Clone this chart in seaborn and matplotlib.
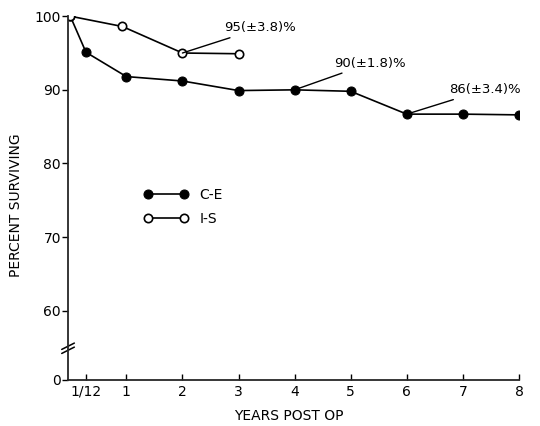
import matplotlib
matplotlib.use("Agg")
import matplotlib.pyplot as plt
import matplotlib.transforms as mtransforms
import seaborn as sns
import pandas as pd
import numpy as np

# x positions as drawn in the figure (1/12 year is stretched out in the original)
tick_pos = [0.28, 1, 2, 3, 4, 5, 6, 7, 8]
tick_labels = ["1/12", "1", "2", "3", "4", "5", "6", "7", "8"]

ce_x = [0, 0.28, 1, 2, 3, 4, 5, 6, 7, 8]
ce_y = [100, 95.1, 91.8, 91.2, 89.9, 90.0, 89.8, 86.7, 86.7, 86.6]

is_x = [0, 0.93, 2, 3]
is_y = [100, 98.6, 95.0, 94.9]

y_ticks = [0, 60, 70, 80, 90, 100]

# compressed region below the axis break
BREAK = 60
SQUEEZE = 9.4 / 60


def fwd(y):
    y = np.asarray(y, dtype=float)
    return np.where(y >= BREAK, y, BREAK + (y - BREAK) * SQUEEZE)


def inv(y):
    y = np.asarray(y, dtype=float)
    return np.where(y >= BREAK, y, BREAK + (y - BREAK) / SQUEEZE)


sns.set_style("ticks")
plt.rcParams["font.family"] = ["DejaVu Sans"]
plt.rcParams["text.color"] = "black"
plt.rcParams["axes.labelcolor"] = "black"
plt.rcParams["xtick.color"] = "black"
plt.rcParams["ytick.color"] = "black"

fig = plt.figure(figsize=(5.4, 4.26), dpi=100)
ax = fig.add_axes([0.126, 0.108, 0.835, 0.854])

ce = pd.DataFrame({"x": ce_x, "y": ce_y})
iso = pd.DataFrame({"x": is_x, "y": is_y})

sns.lineplot(data=ce, x="x", y="y", ax=ax, color="black", lw=1.2,
             marker="o", markersize=6.5, markerfacecolor="black",
             markeredgecolor="black", label="C-E")
sns.lineplot(data=iso, x="x", y="y", ax=ax, color="black", lw=1.2,
             marker="o", markersize=6, markerfacecolor="white",
             markeredgecolor="black", markeredgewidth=1.2, label="I-S")

ax.set_yscale("function", functions=(fwd, inv))
ax.set_ylim(0, 100)
ax.set_xlim(-0.04, 8)
ax.set_yticks(y_ticks)
ax.set_yticklabels([str(t) for t in y_ticks], fontsize=10)
ax.set_xticks(tick_pos)
ax.set_xticklabels(tick_labels, fontsize=10)
ax.tick_params(axis="x", direction="in", length=4, width=1)
ax.tick_params(axis="y", direction="out", length=4, width=1, pad=1)

for side in ["top", "right"]:
    ax.spines[side].set_visible(False)
for side in ["left", "bottom"]:
    ax.spines[side].set_linewidth(1.3)

ax.set_xlabel("YEARS POST OP", fontsize=10)
ax.set_ylabel("PERCENT SURVIVING", fontsize=10)
ax.xaxis.set_label_coords(0.49, -0.08)
ax.yaxis.set_label_coords(-0.1, 0.48)

# axis break marks
trans = mtransforms.blended_transform_factory(ax.transAxes, ax.transData)
for dy in (0, 3.5):
    ax.plot([-0.014, 0.014], [23.0 + dy, 28.5 + dy], color="black", lw=1.1,
            transform=trans, clip_on=False)

# annotations with leader lines
notes = [
    ("95(±3.8)%", (2, 95.0), (2.75, 98.4)),
    ("90(±1.8)%", (4, 90.0), (4.7, 93.6)),
    ("86(±3.4)%", (6, 86.7), (6.75, 90.0)),
]
for txt, xy, xytext in notes:
    ax.annotate(txt, xy=xy, xytext=xytext, fontsize=9.5, va="center", ha="left",
                arrowprops=dict(arrowstyle="-", color="black", lw=1,
                                shrinkA=0, shrinkB=0))

ax.legend(loc="center left", bbox_to_anchor=(0.14, 0.475), frameon=False,
          numpoints=2, handlelength=3.2, fontsize=10, labelspacing=0.7)

fig.savefig("out.png", dpi=100)
